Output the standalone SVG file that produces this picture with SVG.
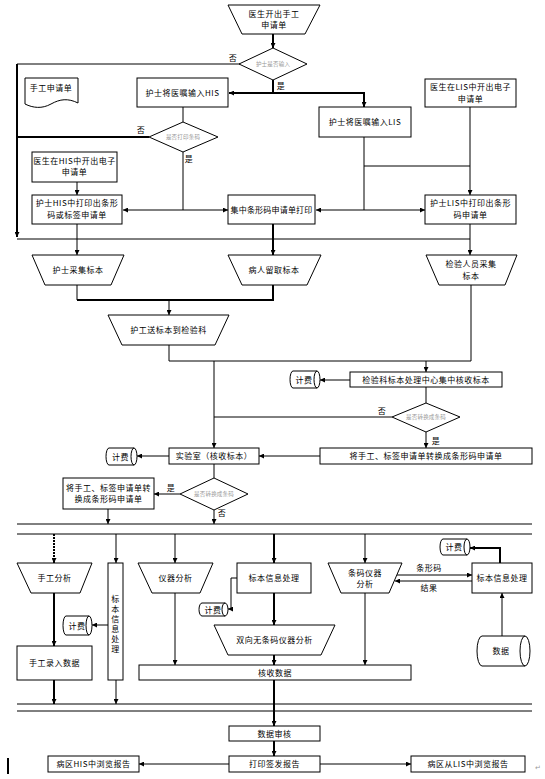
<svg xmlns="http://www.w3.org/2000/svg" width="545" height="779" viewBox="0 0 545 779">
<style>
.t{font-family:"Noto Sans CJK SC","Noto Sans",sans-serif;font-size:8px;text-anchor:middle;fill:#000;letter-spacing:0.5px}
.g{font-size:5.5px;fill:#999;letter-spacing:0.2px}
.s{fill:#fff;stroke:#000;stroke-width:1}
.l{fill:none;stroke:#000;stroke-width:1}
.k{stroke-width:2}
.d{stroke-dasharray:2 1}
</style>
<defs>
<marker id="a" viewBox="0 0 6 6" refX="6" refY="3" markerWidth="5" markerHeight="5" markerUnits="userSpaceOnUse" orient="auto"><path d="M0,0 L6,3 L0,6 Z" fill="#000"/></marker>
</defs>
<rect width="545" height="779" fill="#fff"/>

<g id="connectors">
<path class="l k" d="M273,34 V48" marker-end="url(#a)"/>
<path class="l" d="M240,64 H17"/>
<path class="l k" d="M17,64 V237" marker-end="url(#a)"/>
<path class="l" d="M17,239 H470"/>
<path class="l k" d="M273,80 V93 H229" marker-end="url(#a)"/>
<path class="l k" d="M273,93 H364 V107" marker-end="url(#a)"/>
<path class="l" d="M183,107 V122"/>
<path class="l k" d="M149,137 H17"/>
<path class="l" d="M183,152 V210 H123" marker-end="url(#a)"/>
<path class="l" d="M183,210 H228" marker-end="url(#a)"/>
<path class="l" d="M77,182 V195" marker-end="url(#a)"/>
<path class="l" d="M364,137 V210 H316" marker-end="url(#a)"/>
<path class="l" d="M364,210 H425" marker-end="url(#a)"/>
<path class="l" d="M364,166 H470"/>
<path class="l" d="M470,107 V195" marker-end="url(#a)"/>
<path class="l" d="M77,224 V255" marker-end="url(#a)"/>
<path class="l k" d="M273,224 V255" marker-end="url(#a)"/>
<path class="l" d="M470,224 V255" marker-end="url(#a)"/>
<path class="l" d="M77,285 V300"/>
<path class="l k" d="M77,300 H273 V285"/>
<path class="l" d="M169,300 V315" marker-end="url(#a)"/>
<path class="l" d="M169,345 V361 H471 V285"/>
<path class="l" d="M426,361 V372" marker-end="url(#a)"/>
<path class="l" d="M214,361 V448" marker-end="url(#a)"/>
<path class="l" d="M350,380 H320" marker-end="url(#a)"/>
<path class="l" d="M426,387 V403"/>
<path class="l" d="M392,417 H214"/>
<path class="l" d="M426,432 V448" marker-end="url(#a)"/>
<path class="l" d="M320,456 H259" marker-end="url(#a)"/>
<path class="l" d="M169,456 H137" marker-end="url(#a)"/>
<path class="l" d="M214,464 V478"/>
<path class="l" d="M180,494 H154" marker-end="url(#a)"/>
<path class="l" d="M108,509 V524" marker-end="url(#a)"/>
<path class="l" d="M214,510 V524" marker-end="url(#a)"/>
<path class="l" d="M17,524 H532 M17,534 H532"/>
<path class="l k d" d="M54,534 V563" marker-end="url(#a)"/>
<path class="l" d="M116,534 V563" marker-end="url(#a)"/>
<path class="l" d="M175,534 V563" marker-end="url(#a)"/>
<path class="l k" d="M274,534 V563" marker-end="url(#a)"/>
<path class="l" d="M365,534 V563" marker-end="url(#a)"/>
<path class="l" d="M397,575 H472" marker-end="url(#a)"/>
<path class="l" d="M472,581 H395" marker-end="url(#a)"/>
<path class="l k" d="M500,563 V548 H470" marker-end="url(#a)"/>
<path class="l" d="M502,636 V593" marker-end="url(#a)"/>
<path class="l" d="M237,578 H231 V609 H228" marker-end="url(#a)"/>
<path class="l k" d="M274,593 V625" marker-end="url(#a)"/>
<path class="l" d="M108,625 H92" marker-end="url(#a)"/>
<path class="l k" d="M54,593 V646" marker-end="url(#a)"/>
<path class="l" d="M175,593 V665" marker-end="url(#a)"/>
<path class="l k" d="M274,655 V665" marker-end="url(#a)"/>
<path class="l" d="M365,593 V665" marker-end="url(#a)"/>
<path class="l k" d="M54,680 V704" marker-end="url(#a)"/>
<path class="l" d="M116,680 V704" marker-end="url(#a)"/>
<path class="l" d="M17,704 H532 M17,711 H532"/>
<path class="l k" d="M274,680 V726" marker-end="url(#a)"/>
<path class="l k" d="M274,741 V756" marker-end="url(#a)"/>
<path class="l" d="M229,764 H139" marker-end="url(#a)"/>
<path class="l" d="M320,764 H411" marker-end="url(#a)"/>
</g>

<g id="labels">
<text class="t" x="233" y="61">否</text>
<text class="t" x="281" y="89">是</text>
<text class="t" x="141" y="133">否</text>
<text class="t" x="189" y="162">是</text>
<text class="t" x="382" y="414">否</text>
<text class="t" x="436" y="444">是</text>
<text class="t" x="171" y="491">是</text>
<text class="t" x="222" y="516">否</text>
<text class="t" x="429" y="571">条形码</text>
<text class="t" x="429" y="591">结果</text>
</g>

<g id="n_start"><path class="s" d="M228,5 H320 L305,34 H242 Z"/><text class="t" x="274" y="17">医生开出手工</text><text class="t" x="274" y="28">申请单</text></g>
<g id="n_d1"><path class="s" d="M273,48 L307,64 L273,80 L239,64 Z"/><text class="t g" x="273" y="66">护士是否输入</text></g>
<g id="n_manual"><path class="s" d="M25,78 H78 V103 C68,98 60,99 51,104 C42,109 33,108 25,104 Z"/><text class="t" x="51" y="91">手工申请单</text></g>
<g id="n_his"><rect class="s" x="137" y="78" width="91" height="29"/><text class="t" x="182.5" y="95.5">护士将医嘱输入HIS</text></g>
<g id="n_lis"><rect class="s" x="319" y="107" width="92" height="30"/><text class="t" x="365" y="125">护士将医嘱输入LIS</text></g>
<g id="n_lisdoc"><rect class="s" x="425" y="79" width="91" height="28"/><text class="t" x="470.5" y="90">医生在LIS中开出电子</text><text class="t" x="470.5" y="102">申请单</text></g>
<g id="n_d2"><path class="s" d="M183,122 L218,137 L183,152 L149,137 Z"/><text class="t g" x="183" y="139">是否打印条码</text></g>
<g id="n_hisdoc"><rect class="s" x="32" y="152" width="85" height="30"/><text class="t" x="74.5" y="164">医生在HIS中开出电子</text><text class="t" x="74.5" y="175">申请单</text></g>
<g id="n_hisprint"><rect class="s" x="32" y="195" width="90" height="29"/><text class="t" x="77" y="206">护士HIS中打印出条形</text><text class="t" x="77" y="218">码或标签申请单</text></g>
<g id="n_central"><rect class="s" x="228" y="195" width="87" height="29"/><text class="t" x="271.5" y="212.5" style="letter-spacing:0.2px">集中条形码申请单打印</text></g>
<g id="n_lisprint"><rect class="s" x="425" y="195" width="91" height="29"/><text class="t" x="470.5" y="206">护士LIS中打印出条形</text><text class="t" x="470.5" y="218">码申请单</text></g>
<g id="n_c1"><path class="s" d="M32,255 H124 L111,285 H45 Z"/><text class="t" x="78" y="273">护士采集标本</text></g>
<g id="n_c2"><path class="s" d="M228,255 H321 L307,285 H242 Z"/><text class="t" x="274" y="273">病人留取标本</text></g>
<g id="n_c3"><path class="s" d="M426,255 H517 L505,285 H439 Z"/><text class="t" x="471" y="267">检验人员采集</text><text class="t" x="471" y="279">标本</text></g>
<g id="n_send"><path class="s" d="M108,315 H229 L215,345 H122 Z"/><text class="t" x="168.5" y="333">护工送标本到检验科</text></g>
<g id="n_center"><rect class="s" x="350" y="372" width="152" height="15"/><text class="t" x="426" y="383">检验科标本处理中心集中核收标本</text></g>
<g id="n_fee1"><path class="s" d="M293,371 H317 A3,8.5 0 0 1 317,388 H293 A3,8.5 0 0 1 293,371 Z M317,371 A3,8.5 0 0 0 317,388"/><text class="t" x="304" y="383">计费</text></g>
<g id="n_d3"><path class="s" d="M426,403 L460,417 L426,432 L392,417 Z"/><text class="t g" x="426" y="419">是否转换成条码</text></g>
<g id="n_conv1"><rect class="s" x="320" y="448" width="212" height="16"/><text class="t" x="426" y="459">将手工、标签申请单转换成条形码申请单</text></g>
<g id="n_lab"><rect class="s" x="169" y="448" width="90" height="16"/><text class="t" x="214" y="459">实验室（核收标本）</text></g>
<g id="n_fee2"><path class="s" d="M109,448 H134 A3,8.5 0 0 1 134,465 H109 A3,8.5 0 0 1 109,448 Z M134,448 A3,8.5 0 0 0 134,465"/><text class="t" x="120.5" y="460">计费</text></g>
<g id="n_d4"><path class="s" d="M214,478 L248,494 L214,510 L180,494 Z"/><text class="t g" x="214" y="496">是否转换成条码</text></g>
<g id="n_conv2"><rect class="s" x="63" y="478" width="91" height="31"/><text class="t" x="108.5" y="491">将手工、标签申请单转</text><text class="t" x="108.5" y="502">换成条形码申请单</text></g>
<g id="n_manualan"><path class="s" d="M17,563 H92 L80,593 H31 Z"/><text class="t" x="54.5" y="581">手工分析</text></g>
<g id="n_info1"><rect class="s" x="108" y="563" width="15" height="117"/><text class="t" x="115.5" y="602">标</text><text class="t" x="115.5" y="612">本</text><text class="t" x="115.5" y="622">信</text><text class="t" x="115.5" y="632">息</text><text class="t" x="115.5" y="642">处</text><text class="t" x="115.5" y="652">理</text></g>
<g id="n_instr"><path class="s" d="M138,563 H213 L200,593 H152 Z"/><text class="t" x="175.5" y="581">仪器分析</text></g>
<g id="n_info2"><rect class="s" x="237" y="563" width="74" height="30"/><text class="t" x="274" y="581">标本信息处理</text></g>
<g id="n_barinstr"><path class="s" d="M328,563 H402 L389,593 H341 Z"/><text class="t" x="365" y="576">条码仪器</text><text class="t" x="365" y="587">分析</text></g>
<g id="n_info3"><rect class="s" x="472" y="563" width="60" height="30"/><text class="t" x="502" y="581">标本信息处理</text></g>
<g id="n_fee3"><path class="s" d="M443,539 H467 A3,8 0 0 1 467,555 H443 A3,8 0 0 1 443,539 Z M467,539 A3,8 0 0 0 467,555"/><text class="t" x="454" y="550">计费</text></g>
<g id="n_data"><path class="s" d="M482,636 H525 A5,15 0 0 1 525,666 H482 A5,15 0 0 1 482,636 Z M525,636 A5,15 0 0 0 525,666"/><text class="t" x="501" y="654">数据</text></g>
<g id="n_fee4"><path class="s" d="M202,603 H225 A3,6.5 0 0 1 225,616 H202 A3,6.5 0 0 1 202,603 Z M225,603 A3,6.5 0 0 0 225,616"/><text class="t" x="213" y="612.5">计费</text></g>
<g id="n_twoway"><path class="s" d="M214,625 H335 L321,655 H228 Z"/><text class="t" x="274.5" y="643">双向无条码仪器分析</text></g>
<g id="n_fee5"><path class="s" d="M66,616 H89 A3,9.5 0 0 1 89,635 H66 A3,9.5 0 0 1 66,616 Z M89,616 A3,9.5 0 0 0 89,635"/><text class="t" x="77" y="628.5">计费</text></g>
<g id="n_manualin"><rect class="s" x="17" y="646" width="75" height="34"/><text class="t" x="54.5" y="666">手工录入数据</text></g>
<g id="n_recv"><rect class="s" x="139" y="665" width="272" height="15"/><text class="t" x="275" y="675.5">核收数据</text></g>
<g id="n_audit"><rect class="s" x="229" y="726" width="91" height="15"/><text class="t" x="274.5" y="736.5">数据审核</text></g>
<g id="n_print"><rect class="s" x="229" y="756" width="91" height="16"/><text class="t" x="274.5" y="767">打印签发报告</text></g>
<g id="n_hisview"><rect class="s" x="48" y="756" width="91" height="16"/><text class="t" x="93.5" y="767">病区HIS中浏览报告</text></g>
<g id="n_lisview"><rect class="s" x="411" y="756" width="114" height="16"/><text class="t" x="468" y="767">病区从LIS中浏览报告</text></g>
<rect x="7" y="758" width="2" height="16" fill="#000"/>
<text class="t" x="538" y="770" style="fill:#999;font-size:7px">↵</text>
</svg>
